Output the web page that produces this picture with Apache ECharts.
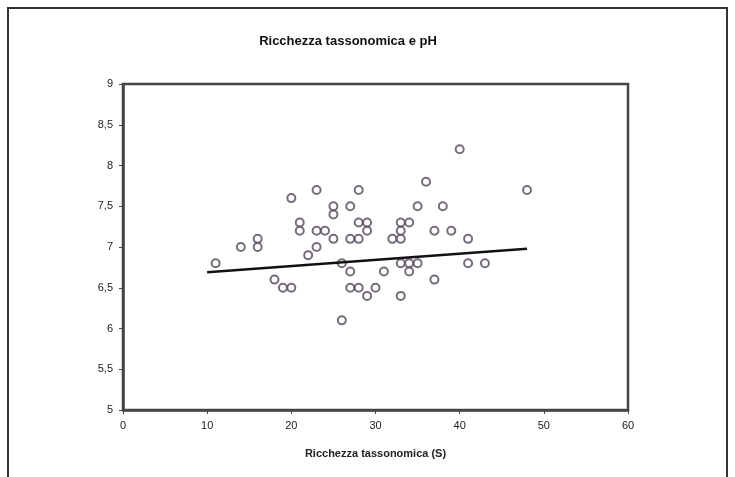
<!DOCTYPE html>
<html>
<head>
<meta charset="utf-8">
<script src="https://cdn.jsdelivr.net/npm/echarts@6/dist/echarts.min.js"></script>
<style>
  html, body { margin: 0; padding: 0; background: #fff; }
  #chart { width: 735px; height: 477px; }
</style>
</head>
<body>
<div id="chart"></div>
<script>
// Ricchezza tassonomica (S) e pH
const richness = [11, 14, 16, 16, 18, 19, 20, 20, 21, 21, 22, 23, 23, 23, 24, 25, 25, 25,
  26, 26, 27, 27, 27, 27, 28, 28, 28, 28, 29, 29, 29, 30, 31, 32, 33, 33, 33, 33, 33,
  34, 34, 34, 35, 35, 36, 37, 37, 38, 39, 40, 41, 41, 43, 48]
const ph = [6.8, 7.0, 7.1, 7.0, 6.6, 6.5, 6.5, 7.6, 7.3, 7.2, 6.9, 7.0, 7.7, 7.2, 7.2, 7.5, 7.4, 7.1,
  6.8, 6.1, 7.5, 7.1, 6.7, 6.5, 6.5, 7.7, 7.1, 7.3, 7.3, 7.2, 6.4, 6.5, 6.7, 7.1, 7.1, 7.3, 7.2, 6.4, 6.8,
  7.3, 6.8, 6.7, 6.8, 7.5, 7.8, 6.6, 7.2, 7.5, 7.2, 8.2, 7.1, 6.8, 6.8, 7.7]

// Linea di tendenza (estremi)
const trendX = [10, 48]
const trendY = [6.69, 6.98]

const chart = echarts.init(document.getElementById('chart'))

const points = richness.map((x, i) => [x, ph[i]])
const trend = trendX.map((x, i) => [x, trendY[i]])

const axisText = { color: '#222', fontFamily: 'Liberation Sans, Arial', fontSize: 11 }

chart.setOption({
  animation: false,
  title: {
    text: 'Ricchezza tassonomica e pH',
    left: 343, top: 30, textAlign: 'center',
    textStyle: { fontFamily: 'Liberation Sans, Arial', fontSize: 13, fontWeight: 'bold', color: '#111' },
  },
  graphic: [{
    type: 'rect',
    shape: { x: 8, y: 8, width: 719, height: 500 },
    style: { fill: null, stroke: '#333', lineWidth: 2 },
    silent: true,
  }],
  grid: {
    left: 123, right: 107, top: 84, bottom: 67,
    show: true, borderColor: '#444', borderWidth: 2.5,
  },
  xAxis: {
    type: 'value', min: 0, max: 60, interval: 10,
    name: 'Ricchezza tassonomica (S)', nameLocation: 'middle', nameGap: 38,
    nameTextStyle: { fontFamily: 'Liberation Sans, Arial', fontSize: 11, fontWeight: 'bold', color: '#222' },
    axisLine: { lineStyle: { color: '#444', width: 2.5 } },
    axisTick: { show: true, length: 4, lineStyle: { color: '#444' } },
    axisLabel: { ...axisText, margin: 10 },
    splitLine: { show: false },
  },
  yAxis: {
    type: 'value', min: 5, max: 9, interval: 0.5,
    axisLine: { show: true, lineStyle: { color: '#444', width: 2.5 } },
    axisTick: { show: true, length: 4, lineStyle: { color: '#444' } },
    axisLabel: { ...axisText, margin: 10, formatter: v => String(v).replace('.', ',') },
    splitLine: { show: false },
  },
  series: [
    {
      type: 'scatter',
      data: points,
      symbol: 'emptyCircle',
      symbolSize: 8,
      itemStyle: { color: '#554859', borderWidth: 1.7 },
    },
    {
      type: 'line',
      data: trend,
      symbol: 'none',
      lineStyle: { color: '#111', width: 2.5 },
    },
  ],
})
</script>
</body>
</html>
